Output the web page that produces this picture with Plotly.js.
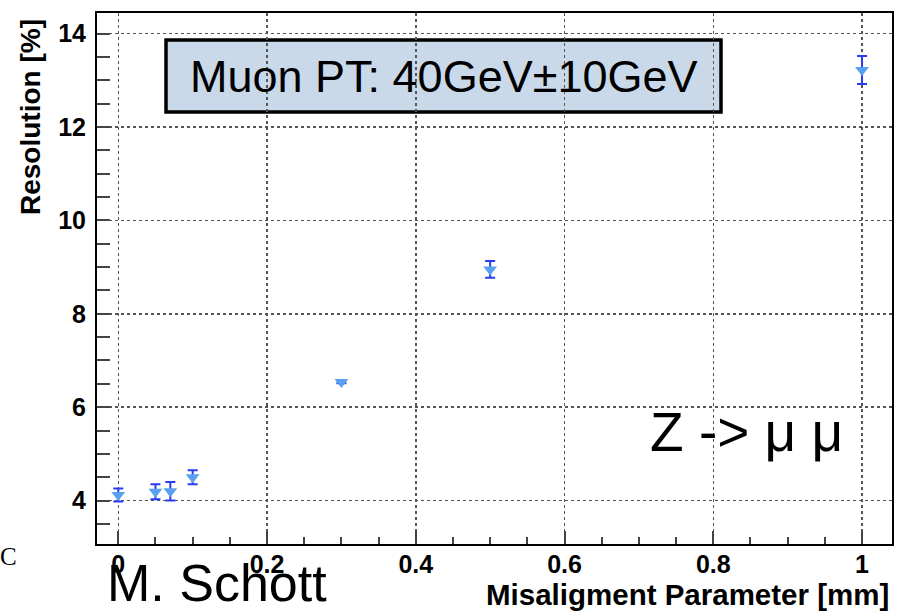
<!DOCTYPE html>
<html>
<head>
<meta charset="utf-8">
<script src="https://cdn.plot.ly/plotly-3.0.1.min.js"></script>
<style>html,body{margin:0;padding:0;background:#fff;}#chart{width:904px;height:611px;}</style>
</head>
<body>
<div id="chart"></div>
<script>
// Data
const misalignment = [0, 0.05, 0.07, 0.1, 0.3, 0.5, 1.0];
const resolution   = [4.12, 4.19, 4.2, 4.5, 6.54, 8.95, 13.22];
const resolutionErr = [0.14, 0.16, 0.2, 0.15, 0.03, 0.18, 0.3];

const xTitle = 'Misaligment Parameter [mm]';
const yTitle = 'Resolution [%]';
const boxLabel = 'Muon PT: 40GeV±10GeV';
const processLabel = 'Z -> μ μ';
const authorLabel = 'M. Schott';

const trace = {
  x: misalignment, y: resolution,
  type: 'scatter', mode: 'markers',
  marker: {symbol: 'triangle-down', size: 12, color: '#5aa0f0'},
  error_y: {type: 'data', array: resolutionErr, visible: true, color: '#2a3cf0', thickness: 2, width: 5},
  showlegend: false, hoverinfo: 'x+y'
};

const tickFont = {family: 'Liberation Sans, Arial, sans-serif', size: 25, color: '#000', weight: 'bold'};

const layout = {
  width: 904, height: 611,
  margin: {l: 97, r: 12, t: 13, b: 67},
  paper_bgcolor: '#fff', plot_bgcolor: '#fff',
  xaxis: {
    range: [-0.0286, 1.0403],
    tickmode: 'linear', tick0: 0, dtick: 0.2,
    ticks: 'inside', ticklen: 13, tickwidth: 2, tickcolor: '#444',
    minor: {dtick: 0.05, ticks: 'inside', ticklen: 7, tickwidth: 2, tickcolor: '#444', showgrid: false},
    showgrid: true, gridcolor: '#555', griddash: 'dot', gridwidth: 1.5,
    zeroline: false,
    showline: true, linecolor: '#000', linewidth: 2, mirror: true,
    tickfont: tickFont, ticklabelstandoff: -3
  },
  yaxis: {
    range: [3.07, 14.44],
    tickmode: 'linear', tick0: 0, dtick: 2,
    ticks: 'inside', ticklen: 13, tickwidth: 2, tickcolor: '#444',
    minor: {dtick: 0.5, ticks: 'inside', ticklen: 13, tickwidth: 2, tickcolor: '#444', showgrid: false},
    showgrid: true, gridcolor: '#555', griddash: 'dot', gridwidth: 1.5,
    zeroline: false,
    showline: true, linecolor: '#000', linewidth: 2, mirror: true,
    tickfont: tickFont, ticklabelstandoff: 4
  },
  shapes: [{
    type: 'rect', layer: 'below',
    xref: 'paper', yref: 'paper',
    x0: (166 - 97) / 795, x1: (721 - 97) / 795,
    y0: (544 - 112) / 531, y1: (544 - 40) / 531,
    fillcolor: '#c9d9ea', line: {color: '#000', width: 3.5}
  }],
  annotations: [
    {text: boxLabel, xref: 'paper', yref: 'paper', x: (443.5 - 97) / 795, y: (544 - 76) / 531,
     xanchor: 'center', yanchor: 'middle', showarrow: false,
     font: {family: 'Liberation Sans, Arial, sans-serif', size: 45, color: '#000'}},
    {text: processLabel, xref: 'paper', yref: 'paper', x: (746 - 97) / 795, y: (544 - 432) / 531,
     xanchor: 'center', yanchor: 'middle', showarrow: false,
     font: {family: 'Liberation Sans, Arial, sans-serif', size: 55, color: '#000'}},
    {text: authorLabel, xref: 'paper', yref: 'paper', x: (217 - 97) / 795, y: (544 - 583) / 531,
     xanchor: 'center', yanchor: 'middle', showarrow: false,
     font: {family: 'Liberation Sans, Arial, sans-serif', size: 52, color: '#000'}},
    {text: xTitle, xref: 'paper', yref: 'paper', x: (891 - 97) / 795, y: (544 - 594) / 531,
     xanchor: 'right', yanchor: 'middle', showarrow: false,
     font: {family: 'Liberation Sans, Arial, sans-serif', size: 29.5, color: '#000', weight: 'bold'}},
    {text: yTitle, xref: 'paper', yref: 'paper', x: (30 - 97) / 795, y: (544 - 117) / 531,
     xanchor: 'center', yanchor: 'middle', textangle: -90, showarrow: false,
     font: {family: 'Liberation Sans, Arial, sans-serif', size: 28, color: '#000', weight: 'bold'}},
    {text: 'C', xref: 'paper', yref: 'paper', x: (8 - 97) / 795, y: (544 - 556) / 531,
     xanchor: 'center', yanchor: 'middle', showarrow: false,
     font: {family: 'Liberation Serif, Times New Roman, serif', size: 25, color: '#000'}}
  ]
};

Plotly.newPlot('chart', [trace], layout, {displayModeBar: false, staticPlot: true});
</script>
</body>
</html>
